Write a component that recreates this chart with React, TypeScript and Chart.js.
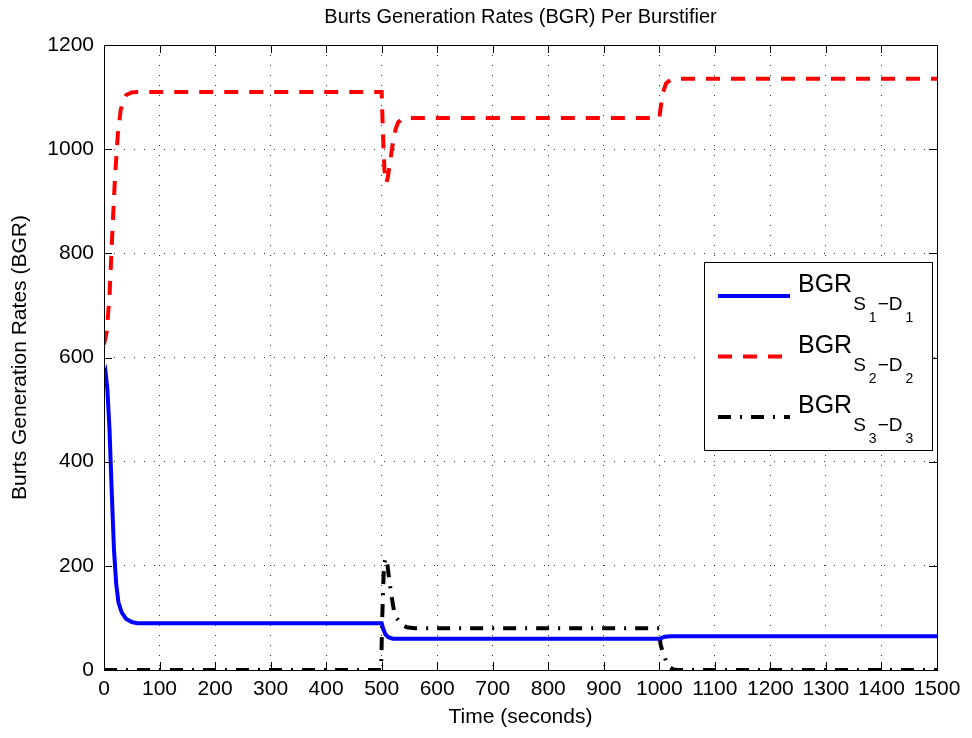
import React, { useEffect, useRef } from 'react';
import { Chart, registerables } from 'chart.js';

Chart.register(...registerables);

const FONT = '"Liberation Sans", Arial, Helvetica, sans-serif';

const chartTitle = 'Burts Generation Rates (BGR) Per Burstifier';
const xAxisTitle = 'Time (seconds)';
const yAxisTitle = 'Burts Generation Rates (BGR)';

const xTickValues = [0, 100, 200, 300, 400, 500, 600, 700, 800, 900, 1000, 1100, 1200, 1300, 1400, 1500];
const yTickValues = [0, 200, 400, 600, 800, 1000, 1200];

// S1-D1 (blue, solid)
const blueTime = [0, 3, 6, 10, 14, 18, 22, 26, 32, 40, 50, 60, 500, 503, 507, 512, 520, 1000, 1010, 1020, 1500];
const blueValues = [560, 570, 540, 460, 340, 230, 165, 130, 110, 98, 92, 90, 90, 78, 68, 63, 60, 60, 64, 65, 65];

// S2-D2 (red, dashed)
const redTime = [0, 5, 10, 15, 20, 25, 30, 35, 40, 50, 60, 500, 502, 505, 508, 511, 515, 520, 525, 530, 540, 1000, 1003, 1007, 1012, 1020, 1030, 1500];
const redValues = [625, 650, 720, 840, 950, 1030, 1075, 1095, 1104, 1109, 1110, 1110, 1040, 960, 935, 945, 975, 1010, 1038, 1052, 1060, 1060, 1085, 1110, 1126, 1133, 1135, 1135];

// S3-D3 (black, dash-dot)
const blackTime = [0, 499, 501, 504, 507, 510, 514, 518, 522, 527, 535, 545, 560, 1000, 1002, 1006, 1012, 1018, 1025, 1035, 1500];
const blackValues = [0, 0, 100, 200, 215, 205, 170, 140, 115, 100, 88, 82, 80, 80, 50, 35, 18, 6, 1, 0, 0];

const seriesSubs = ['1', '2', '3'];
const seriesColors = ['#0000ff', '#ff0000', '#000000'];
const seriesDashes: number[][] = [[], [14, 11], [13, 9, 2, 9]];

function toPoints(t: number[], v: number[]) {
  return t.map((x, i) => ({ x, y: v[i] }));
}

const boxPlugin = {
  id: 'matlabBox',
  afterDraw(chart: any) {
    const { ctx, chartArea: ca, scales } = chart;
    ctx.save();
    ctx.strokeStyle = '#000';
    ctx.lineWidth = 1;
    ctx.setLineDash([]);
    // inward ticks
    const tl = 8;
    ctx.beginPath();
    xTickValues.forEach((v) => {
      const px = Math.round(scales.x.getPixelForValue(v)) + 0.5;
      ctx.moveTo(px, ca.bottom);
      ctx.lineTo(px, ca.bottom - tl);
      ctx.moveTo(px, ca.top);
      ctx.lineTo(px, ca.top + tl);
    });
    yTickValues.forEach((v) => {
      const py = Math.round(scales.y.getPixelForValue(v)) + 0.5;
      ctx.moveTo(ca.left, py);
      ctx.lineTo(ca.left + tl, py);
      ctx.moveTo(ca.right, py);
      ctx.lineTo(ca.right - tl, py);
    });
    ctx.stroke();
    // box
    ctx.strokeRect(Math.round(ca.left) + 0.5, Math.round(ca.top) + 0.5, Math.round(ca.right - ca.left), Math.round(ca.bottom - ca.top));

    // legend
    const bl = ca.right - 233;
    const bt = ca.top + 217;
    const bw = 228;
    const bh = 188;
    ctx.fillStyle = '#fff';
    ctx.fillRect(bl, bt, bw, bh);
    ctx.strokeRect(Math.round(bl) + 0.5, Math.round(bt) + 0.5, bw, bh);
    ctx.textBaseline = 'alphabetic';
    ctx.textAlign = 'left';
    for (let i = 0; i < 3; i++) {
      const ly = bt + 34 + i * 60.5;
      ctx.beginPath();
      ctx.strokeStyle = seriesColors[i];
      ctx.lineWidth = 4;
      ctx.setLineDash(seriesDashes[i]);
      ctx.moveTo(bl + 14, ly);
      ctx.lineTo(bl + 86, ly);
      ctx.stroke();
      ctx.setLineDash([]);
      ctx.fillStyle = '#000';
      const base = bt + 30 + i * 60.5;
      let x = bl + 94;
      ctx.font = `25px ${FONT}`;
      ctx.fillText('BGR', x, base);
      x += ctx.measureText('BGR').width + 1;
      ctx.font = `19px ${FONT}`;
      ctx.fillText('S', x, base + 18);
      x += ctx.measureText('S').width + 3;
      ctx.font = `14px ${FONT}`;
      ctx.fillText(seriesSubs[i], x, base + 30);
      x += ctx.measureText(seriesSubs[i]).width + 1;
      ctx.font = `19px ${FONT}`;
      ctx.fillText('\u2212D', x, base + 18);
      x += ctx.measureText('\u2212D').width + 3;
      ctx.font = `14px ${FONT}`;
      ctx.fillText(seriesSubs[i], x, base + 30);
    }
    ctx.restore();
  },
};

export default function App() {
  const ref = useRef<HTMLCanvasElement | null>(null);
  useEffect(() => {
    if (!ref.current) return;
    const chart = new Chart(ref.current, {
      type: 'line',
      data: {
        datasets: [
          {
            label: 'BGR S1-D1',
            data: toPoints(blueTime, blueValues),
            borderColor: seriesColors[0],
            borderWidth: 4,
            borderDash: seriesDashes[0],
            pointRadius: 0,
            tension: 0,
            fill: false,
          },
          {
            label: 'BGR S2-D2',
            data: toPoints(redTime, redValues),
            borderColor: seriesColors[1],
            borderWidth: 4,
            borderDash: seriesDashes[1],
            pointRadius: 0,
            tension: 0,
            fill: false,
          },
          {
            label: 'BGR S3-D3',
            data: toPoints(blackTime, blackValues),
            borderColor: seriesColors[2],
            borderWidth: 4,
            borderDash: seriesDashes[2],
            pointRadius: 0,
            tension: 0,
            fill: false,
          },
        ],
      },
      options: {
        responsive: false,
        animation: false,
        layout: { padding: { left: 0, right: 35, top: 0, bottom: 0 } },
        plugins: {
          legend: { display: false },
          tooltip: { enabled: false },
          title: {
            display: true,
            fullSize: false,
            text: chartTitle,
            color: '#000',
            font: { family: FONT, size: 20, weight: 'normal' },
            padding: { top: 5, bottom: 16 },
          },
        },
        scales: {
          x: {
            type: 'linear',
            min: 0,
            max: 1500,
            afterFit: (s: any) => { s.height = 68; },
            afterBuildTicks: (s: any) => { s.ticks = xTickValues.map((v) => ({ value: v })); },
            ticks: {
              color: '#000',
              font: { family: FONT, size: 21 },
              padding: 7,
              maxRotation: 0,
              autoSkip: false,
              callback: (v: any) => String(v),
            },
            grid: { color: 'rgba(0,0,0,0.8)', lineWidth: 1, drawTicks: false },
            border: { display: false, dash: [1, 9] },
            title: {
              display: true,
              text: xAxisTitle,
              color: '#000',
              font: { family: FONT, size: 21 },
              padding: { top: 0, bottom: 8 },
            },
          },
          y: {
            type: 'linear',
            min: 0,
            max: 1200,
            afterFit: (s: any) => { s.width = 104; },
            afterBuildTicks: (s: any) => { s.ticks = yTickValues.map((v) => ({ value: v })); },
            ticks: {
              color: '#000',
              font: { family: FONT, size: 21 },
              padding: 10,
              autoSkip: false,
              callback: (v: any) => String(v),
            },
            grid: { color: 'rgba(0,0,0,0.8)', lineWidth: 1, drawTicks: false },
            border: { display: false, dash: [1, 9] },
            title: {
              display: true,
              text: yAxisTitle,
              color: '#000',
              font: { family: FONT, size: 21 },
              padding: { top: 8, bottom: 0 },
            },
          },
        },
      },
      plugins: [boxPlugin],
    });
    return () => chart.destroy();
  }, []);
  return (
    <div style={{ position: 'absolute', left: 0, top: 0, width: 972, height: 738, background: '#fff' }}>
      <canvas ref={ref} width={972} height={738} style={{ width: 972, height: 738, display: 'block' }} />
    </div>
  );
}
